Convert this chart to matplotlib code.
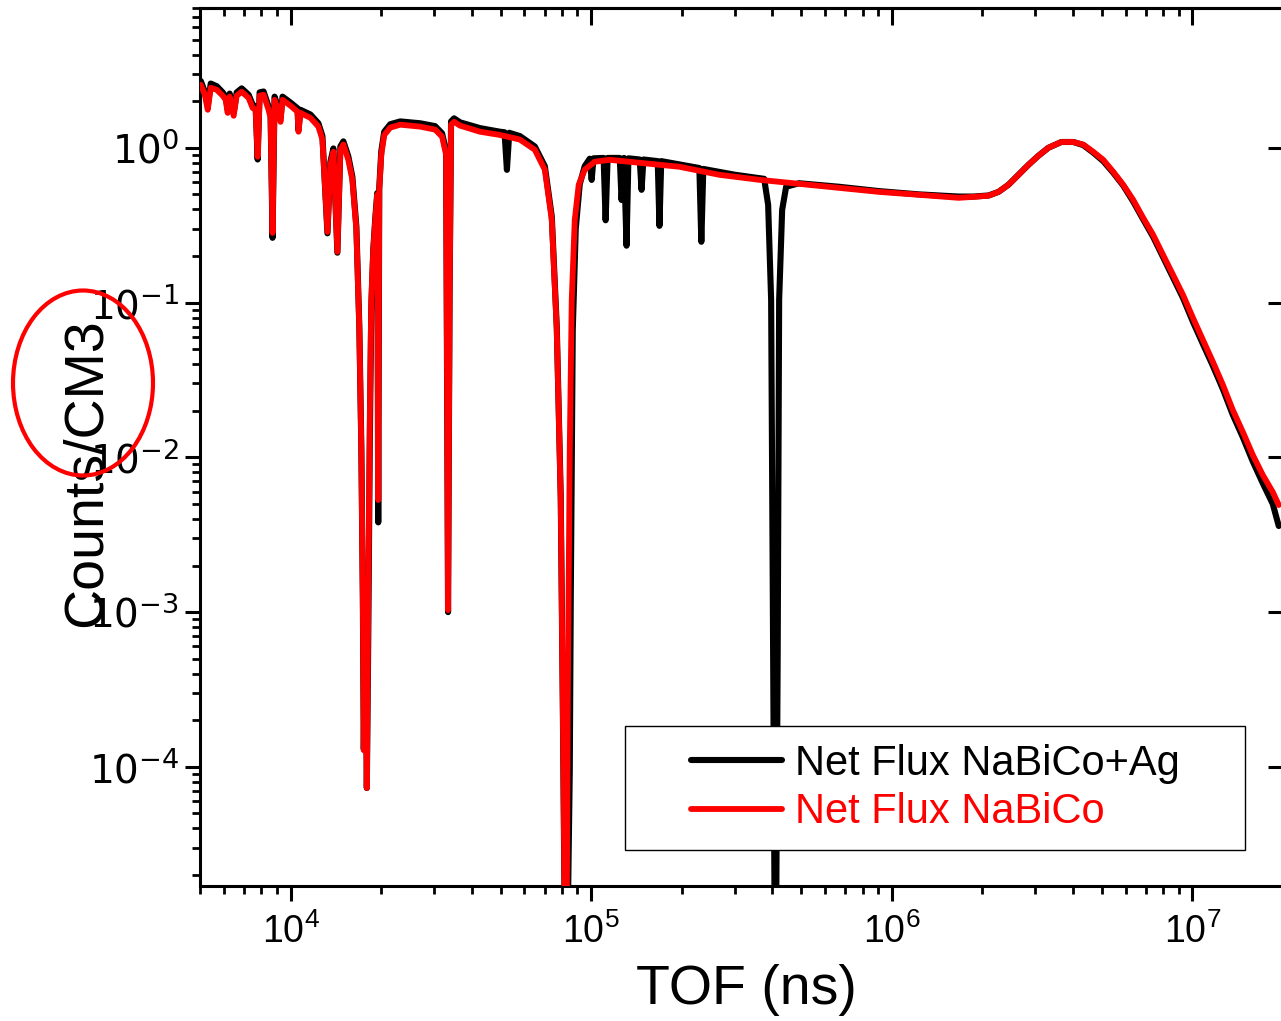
import matplotlib
matplotlib.use("Agg")
import numpy as np
import matplotlib.pyplot as plt
from matplotlib.patches import Ellipse, Rectangle
from matplotlib.ticker import LogLocator, FuncFormatter, NullFormatter

# Net flux spectra (TOF in ns, counts per cm^3)
tof_ag = [5030, 5190, 5305, 5428, 5683, 5950, 6087, 6181, 6277, 6471,
          6622, 6880, 7256, 7482, 7656, 7775, 7894, 8137, 8453, 8585,
          8715, 8850, 9125, 9265, 9407, 10000, 10550, 10630, 10790, 11650,
          12380, 12770, 13270, 13570, 13890, 14320, 14650, 14990, 15570, 16060,
          16560, 16940, 17200, 17400, 17530, 17740, 17940, 18140, 18350, 18560,
          18850, 19140, 19430, 19580, 19730, 20040, 20500, 21470, 23170, 26990,
          30270, 31930, 32920, 33420, 33810, 34200, 34990, 36640, 42680, 49720,
          51500, 52450, 53400, 57930, 64950, 70130, 73960, 76840, 79210, 80440,
          81680, 82940, 83580, 84880, 85530, 86840, 88860, 91610, 95150, 98900,
          100370, 101800, 110000, 111700, 113400, 124500, 126200, 128600, 131100, 133000,
          145000, 147100, 149200, 166500, 168700, 171000, 229000, 232500, 236000, 300000,
          376200, 387800, 396800, 402900, 407600, 412300, 417100, 421900, 431700, 445100,
          491500, 667000, 905500, 1.229e6, 1.669e6, 1.870e6, 2.098e6, 2.264e6, 2.443e6, 2.638e6,
          2.847e6, 3.073e6, 3.317e6, 3.663e6, 4.014e6, 4.333e6, 4.677e6, 5.048e6, 5.449e6, 5.882e6,
          6.348e6, 6.852e6, 7.396e6, 7.983e6, 8.616e6, 9.299e6, 1.0037e7, 1.083e7, 1.169e7, 1.262e7,
          1.362e7, 1.470e7, 1.587e7, 1.713e7, 1.849e7, 1.936e7]
counts_ag = [2.70, 2.30, 1.85, 2.60, 2.50, 2.28, 2.14, 1.76, 2.24, 1.69,
             2.28, 2.42, 2.20, 1.90, 1.85, 0.84, 2.28, 2.31, 1.85, 1.64,
             0.262, 2.14, 1.80, 1.55, 2.14, 1.96, 1.80, 1.30, 1.76, 1.64,
             1.44, 1.19, 0.28, 0.81, 0.99, 0.21, 1.02, 1.10, 0.88, 0.65,
             0.31, 0.070, 0.0118, 0.00126, 1.3e-4, 0.0013, 7.3e-5, 7e-4, 0.012, 0.09,
             0.22, 0.35, 0.51, 0.0038, 0.55, 0.95, 1.27, 1.42, 1.48, 1.44,
             1.38, 1.24, 0.95, 0.00100, 0.11, 1.48, 1.55, 1.46, 1.34, 1.27,
             1.26, 0.72, 1.25, 1.19, 1.02, 0.76, 0.36, 0.070, 0.0056, 2.8e-4,
             1e-5, 1e-5, 1e-5, 9.5e-5, 0.0012, 0.066, 0.30, 0.58, 0.76, 0.85,
             0.62, 0.855, 0.86, 0.34, 0.86, 0.86, 0.46, 0.86, 0.233, 0.855,
             0.84, 0.535, 0.84, 0.82, 0.313, 0.82, 0.74, 0.247, 0.73, 0.67,
             0.63, 0.428, 0.104, 5e-4, 1e-5, 1e-5, 5e-4, 0.104, 0.397, 0.56,
             0.59, 0.56, 0.525, 0.50, 0.484, 0.484, 0.492, 0.519, 0.577, 0.669,
             0.776, 0.888, 1.00, 1.09, 1.09, 1.04, 0.93, 0.82, 0.69, 0.57,
             0.45, 0.345, 0.266, 0.196, 0.145, 0.107, 0.075, 0.054, 0.039, 0.0276,
             0.0188, 0.0135, 0.0094, 0.0068, 0.0050, 0.0036]

tof_nabico = [5030, 5190, 5305, 5428, 5683, 5950, 6087, 6181, 6277, 6471,
              6622, 6880, 7256, 7482, 7656, 7775, 7894, 8137, 8453, 8585,
              8715, 8850, 9125, 9265, 9407, 10000, 10550, 10630, 10790, 11650,
              12380, 12770, 13270, 13570, 13890, 14320, 14650, 14990, 15570, 16060,
              16560, 16940, 17200, 17400, 17530, 17740, 17940, 18140, 18350, 18560,
              18850, 19140, 19430, 19580, 19730, 20040, 20500, 21470, 23170, 26990,
              30270, 31930, 32920, 33420, 33810, 34200, 34990, 36640, 42680, 49720,
              57930, 64950, 70130, 73960, 76840, 79210, 80440, 81680, 82940, 83580,
              84880, 86180, 88190, 90910, 95150, 102700, 115200, 144800, 196600, 266800,
              362200, 491500, 667000, 905500, 1.229e6, 1.669e6, 1.870e6, 2.098e6, 2.264e6, 2.443e6,
              2.638e6, 2.847e6, 3.073e6, 3.317e6, 3.663e6, 4.014e6, 4.333e6, 4.677e6, 5.048e6, 5.449e6,
              5.882e6, 6.348e6, 6.852e6, 7.396e6, 7.983e6, 8.616e6, 9.299e6, 1.0037e7, 1.083e7, 1.169e7,
              1.262e7, 1.362e7, 1.470e7, 1.587e7, 1.713e7, 1.849e7, 1.936e7]
counts_nabico = [2.55, 2.20, 1.76, 2.44, 2.37, 2.17, 2.04, 1.68, 2.14, 1.61,
                 2.17, 2.30, 2.10, 1.81, 1.76, 0.875, 2.17, 2.20, 1.76, 1.56,
                 0.282, 2.04, 1.71, 1.47, 2.04, 1.87, 1.71, 1.27, 1.68, 1.56,
                 1.37, 1.13, 0.286, 0.776, 0.942, 0.213, 0.971, 1.05, 0.836, 0.621,
                 0.295, 0.0666, 0.0112, 0.00120, 1.28e-4, 0.00120, 7.3e-5, 0.0012, 0.0175, 0.104,
                 0.219, 0.342, 0.497, 0.0053, 0.535, 0.901, 1.21, 1.35, 1.41, 1.37,
                 1.31, 1.18, 0.901, 0.00103, 0.104, 1.41, 1.47, 1.39, 1.27, 1.21,
                 1.13, 0.971, 0.721, 0.342, 0.0666, 0.0053, 2.7e-4, 1e-5, 1e-5, 2.7e-4,
                 0.0112, 0.104, 0.342, 0.577, 0.721, 0.812, 0.836, 0.800, 0.754, 0.669,
                 0.621, 0.585, 0.551, 0.519, 0.497, 0.475, 0.482, 0.490, 0.519, 0.577,
                 0.669, 0.776, 0.888, 1.00, 1.09, 1.09, 1.05, 0.942, 0.836, 0.700,
                 0.577, 0.461, 0.353, 0.274, 0.203, 0.151, 0.112, 0.0796, 0.0574, 0.0414,
                 0.0294, 0.0202, 0.0146, 0.01036, 0.00769, 0.00597, 0.00492]

series_labels = ["Net Flux NaBiCo+Ag", "Net Flux NaBiCo"]
x_label = "TOF (ns)"
y_label = "Counts/CM3"
x_limits = (5.0e3, 2.0e7)
y_limits = (1.7e-5, 8.0)

NARROW = ["Liberation Sans Narrow", "Liberation Sans", "DejaVu Sans"]
plt.rcParams["font.family"] = NARROW
plt.rcParams["mathtext.fontset"] = "custom"
plt.rcParams["mathtext.rm"] = "Liberation Sans"
plt.rcParams["mathtext.sf"] = "DejaVu Sans"

fig = plt.figure(figsize=(12.81, 10.21), dpi=100)
ax = fig.add_axes([200 / 1281, 1 - 886 / 1021, 1083 / 1281, 878 / 1021])

ax.plot(tof_ag, counts_ag, color="black", lw=4.4, solid_joinstyle="round",
        solid_capstyle="round", label=series_labels[0], zorder=2)
ax.plot(tof_nabico, counts_nabico, color="red", lw=4.2, solid_joinstyle="round",
        solid_capstyle="round", label=series_labels[1], zorder=3)

ax.set_xscale("log")
ax.set_yscale("log")
ax.set_xlim(*x_limits)
ax.set_ylim(*y_limits)

for s in ax.spines.values():
    s.set_linewidth(2.2)

ax.xaxis.set_major_locator(LogLocator(base=10, numticks=30))
ax.xaxis.set_minor_locator(LogLocator(base=10, subs=np.arange(2, 10), numticks=30))
ax.yaxis.set_major_locator(LogLocator(base=10, numticks=30))
ax.yaxis.set_minor_locator(LogLocator(base=10, subs=np.arange(2, 10), numticks=30))
ax.xaxis.set_minor_formatter(NullFormatter())
ax.yaxis.set_minor_formatter(NullFormatter())
ax.xaxis.set_major_formatter(FuncFormatter(lambda v, p: r"$\mathrm{10^{%d}}$" % round(np.log10(v))))
ax.yaxis.set_major_formatter(FuncFormatter(lambda v, p: r"$\mathsf{10^{%d}}$" % round(np.log10(v))))

ax.tick_params(axis="both", which="major", direction="out", length=11, width=2.2)
ax.tick_params(axis="both", which="minor", direction="out", length=6, width=2.0)
ax.tick_params(axis="x", which="major", labelsize=27, pad=9)
ax.tick_params(axis="y", which="major", labelsize=28, pad=4)

# mirrored ticks on top and right, pointing inward
top = ax.secondary_xaxis("top")
top.xaxis.set_major_locator(LogLocator(base=10, numticks=30))
top.xaxis.set_minor_locator(LogLocator(base=10, subs=np.arange(2, 10), numticks=30))
top.tick_params(which="major", direction="in", length=12, width=2.2, labeltop=False)
top.tick_params(which="minor", direction="in", length=6, width=2.0)
top.xaxis.set_minor_formatter(NullFormatter())
top.spines["top"].set_linewidth(2.2)

right = ax.secondary_yaxis("right")
right.yaxis.set_major_locator(LogLocator(base=10, numticks=30))
right.yaxis.set_minor_locator(LogLocator(base=10, subs=np.arange(2, 10), numticks=30))
right.tick_params(which="major", direction="in", length=11, width=2.2, labelright=False)
right.tick_params(which="minor", direction="in", length=0, width=0)
right.yaxis.set_minor_formatter(NullFormatter())

ax.set_xlabel(x_label, fontsize=40, va="center")
ax.xaxis.set_label_coords((746 - 200) / 1083, (886 - 990) / 878)
ax.set_ylabel(y_label, fontsize=40, va="center", ha="center")
ax.yaxis.set_label_coords((87 - 200) / 1083, (886 - 473) / 878)

# legend box
ax.add_patch(Rectangle(((625 - 200) / 1083, (886 - 850) / 878), 620 / 1083, 124 / 878,
                       transform=ax.transAxes, facecolor="white", edgecolor="black",
                       lw=1.0, zorder=4))
leg = ax.legend(loc="center", bbox_to_anchor=((935 - 200) / 1083, (886 - 788) / 878),
                frameon=False, fontsize=30, handlelength=2.2, handletextpad=0.3,
                labelspacing=0.2, labelcolor="linecolor")
leg.set_zorder(5)

# highlight around the axis label
fig.add_artist(Ellipse((83 / 1281, 1 - 383 / 1021), 140 / 1281, 185 / 1021,
                       transform=fig.transFigure, fill=False, edgecolor="red",
                       lw=3.0, zorder=10))

fig.savefig("out.png", dpi=100)
